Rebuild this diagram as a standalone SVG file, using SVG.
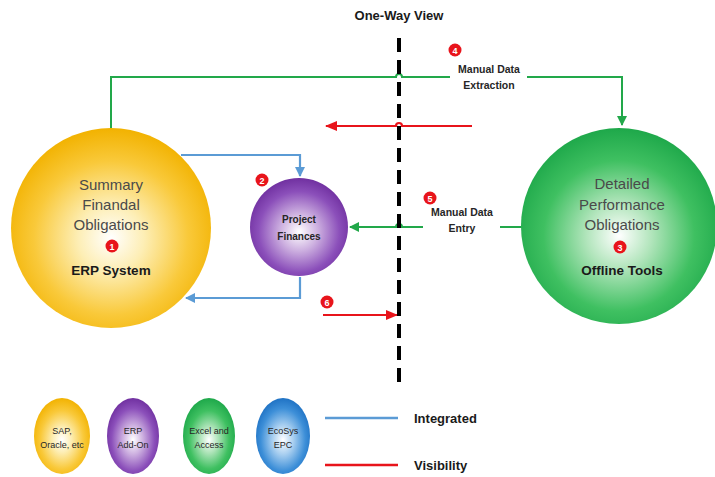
<svg xmlns="http://www.w3.org/2000/svg" width="715" height="477" viewBox="0 0 715 477">
<defs>
<radialGradient id="gy" cx="50%" cy="55%" r="55%"><stop offset="0" stop-color="#ffffff"/><stop offset="0.3" stop-color="#fdeeb5"/><stop offset="0.7" stop-color="#f9c93a"/><stop offset="1" stop-color="#f2b200"/></radialGradient>
<radialGradient id="gp" cx="50%" cy="55%" r="55%"><stop offset="0" stop-color="#ffffff"/><stop offset="0.35" stop-color="#cdb0e0"/><stop offset="0.75" stop-color="#8b4fba"/><stop offset="1" stop-color="#7030a0"/></radialGradient>
<radialGradient id="gg" cx="50%" cy="55%" r="55%"><stop offset="0" stop-color="#ffffff"/><stop offset="0.3" stop-color="#b2e5bc"/><stop offset="0.7" stop-color="#3fc061"/><stop offset="1" stop-color="#1ea84a"/></radialGradient>
<radialGradient id="gb" cx="50%" cy="55%" r="55%"><stop offset="0" stop-color="#ffffff"/><stop offset="0.35" stop-color="#a9cff0"/><stop offset="0.75" stop-color="#3d8fd8"/><stop offset="1" stop-color="#1f72c4"/></radialGradient>
<marker id="ag" markerWidth="10" markerHeight="10" refX="9" refY="5" orient="auto" markerUnits="userSpaceOnUse"><path d="M0,0 L10,5 L0,10 z" fill="#22a84a"/></marker>
<marker id="ab" markerWidth="10" markerHeight="10" refX="9" refY="5" orient="auto" markerUnits="userSpaceOnUse"><path d="M0,0 L10,5 L0,10 z" fill="#5b9bd5"/></marker>
<marker id="ar" markerWidth="12" markerHeight="10" refX="11" refY="5" orient="auto" markerUnits="userSpaceOnUse"><path d="M0,0 L12,5 L0,10 z" fill="#e8141b"/></marker>
<style>
.t{font-family:"Liberation Sans",Arial,sans-serif;}
.big{font-size:15px;fill:#4a4a4a;text-anchor:middle;}
.bold{font-size:13.5px;font-weight:bold;fill:#1a1a1a;text-anchor:middle;}
.small{font-size:10px;font-weight:bold;fill:#262626;text-anchor:middle;}
.lab{font-size:10.5px;fill:#262626;text-anchor:middle;font-weight:bold;}
.leg{font-size:9px;fill:#262626;text-anchor:middle;}
.bt{font-size:9px;font-weight:bold;fill:#fff;text-anchor:middle;}
.g{fill:none;stroke:#22a84a;stroke-width:2;}
.b{fill:none;stroke:#5b9bd5;stroke-width:2.2;}
.r{fill:none;stroke:#e8141b;stroke-width:2.2;}
</style>
</defs>
<rect width="715" height="477" fill="#ffffff"/>
<text class="t" x="399" y="20" font-size="13" font-weight="bold" fill="#1a1a1a" text-anchor="middle">One-Way View</text>
<g id="connectors">
<path class="g" d="M111,128 V77 H396 A3,3 0 0 1 402,77 H450"/>
<path class="g" d="M527,77 H622 V125" marker-end="url(#ag)"/>
<path class="g" d="M522,227 H500"/>
<path class="g" d="M423,227 H402 A3,3 0 0 0 396,227 H350" marker-end="url(#ag)"/>
<path class="r" d="M472,126 H402 A3,3 0 0 0 396,126 H326" marker-end="url(#ar)"/>
<path class="r" d="M323,315 H397" marker-end="url(#ar)"/>
<path class="b" d="M181,155 H300 V176" marker-end="url(#ab)"/>
<path class="b" d="M300,277 V298 H186" marker-end="url(#ab)"/>
<line x1="399" y1="38" x2="399" y2="386" stroke="#000" stroke-width="4" stroke-dasharray="14 8"/>
</g>
<g id="erp">
<circle cx="111" cy="228" r="100" fill="url(#gy)"/>
<text class="t big" x="111" y="190">Summary</text>
<text class="t big" x="111" y="210">Finandal</text>
<text class="t big" x="111" y="230">Obligations</text>
<circle cx="112" cy="246" r="6.5" fill="#e8141b"/><text class="t bt" x="112" y="249.5">1</text>
<text class="t bold" x="111" y="275">ERP System</text>
</g>
<g id="project">
<circle cx="299" cy="227" r="49" fill="url(#gp)"/>
<text class="t small" x="299" y="223">Project</text>
<text class="t small" x="299" y="240">Finances</text>
<circle cx="262" cy="180" r="6.5" fill="#e8141b"/><text class="t bt" x="262" y="183.5">2</text>
</g>
<g id="offline">
<circle cx="619" cy="226" r="98" fill="url(#gg)"/>
<text class="t big" x="622" y="189">Detailed</text>
<text class="t big" x="622" y="210">Performance</text>
<text class="t big" x="622" y="230">Obligations</text>
<circle cx="620" cy="247" r="6.5" fill="#e8141b"/><text class="t bt" x="620" y="250.5">3</text>
<text class="t bold" x="622" y="275">Offline Tools</text>
</g>
<g id="label4">
<circle cx="455" cy="50" r="6.5" fill="#e8141b"/><text class="t bt" x="455" y="53.5">4</text>
<text class="t lab" x="489" y="73">Manual Data</text>
<text class="t lab" x="489" y="89">Extraction</text>
</g>
<g id="label5">
<circle cx="430" cy="198" r="6.5" fill="#e8141b"/><text class="t bt" x="430" y="201.5">5</text>
<text class="t lab" x="462" y="216">Manual Data</text>
<text class="t lab" x="462" y="232">Entry</text>
</g>
<g id="label6">
<circle cx="327" cy="302" r="6.5" fill="#e8141b"/><text class="t bt" x="327" y="305.5">6</text>
</g>
<g id="legend-sap">
<ellipse cx="62" cy="436" rx="28" ry="38" fill="url(#gy)"/>
<text class="t leg" x="62" y="434">SAP,</text>
<text class="t leg" x="62" y="448">Oracle, etc</text>
</g>
<g id="legend-erp">
<ellipse cx="133" cy="436" rx="26" ry="38" fill="url(#gp)"/>
<text class="t leg" x="133" y="434">ERP</text>
<text class="t leg" x="133" y="448">Add-On</text>
</g>
<g id="legend-excel">
<ellipse cx="209" cy="436" rx="26" ry="38" fill="url(#gg)"/>
<text class="t leg" x="209" y="434">Excel and</text>
<text class="t leg" x="209" y="448">Access</text>
</g>
<g id="legend-ecosys">
<ellipse cx="283" cy="436" rx="27" ry="38" fill="url(#gb)"/>
<text class="t leg" x="283" y="434">EcoSys</text>
<text class="t leg" x="283" y="448">EPC</text>
</g>
<g id="legend-lines">
<line x1="325" y1="418" x2="398" y2="418" stroke="#5b9bd5" stroke-width="2.5"/>
<line x1="325" y1="465" x2="398" y2="465" stroke="#e8141b" stroke-width="2.5"/>
<text class="t" x="414" y="423" font-size="13" font-weight="bold" fill="#1a1a1a">Integrated</text>
<text class="t" x="414" y="470" font-size="13" font-weight="bold" fill="#1a1a1a">Visibility</text>
</g>
</svg>
